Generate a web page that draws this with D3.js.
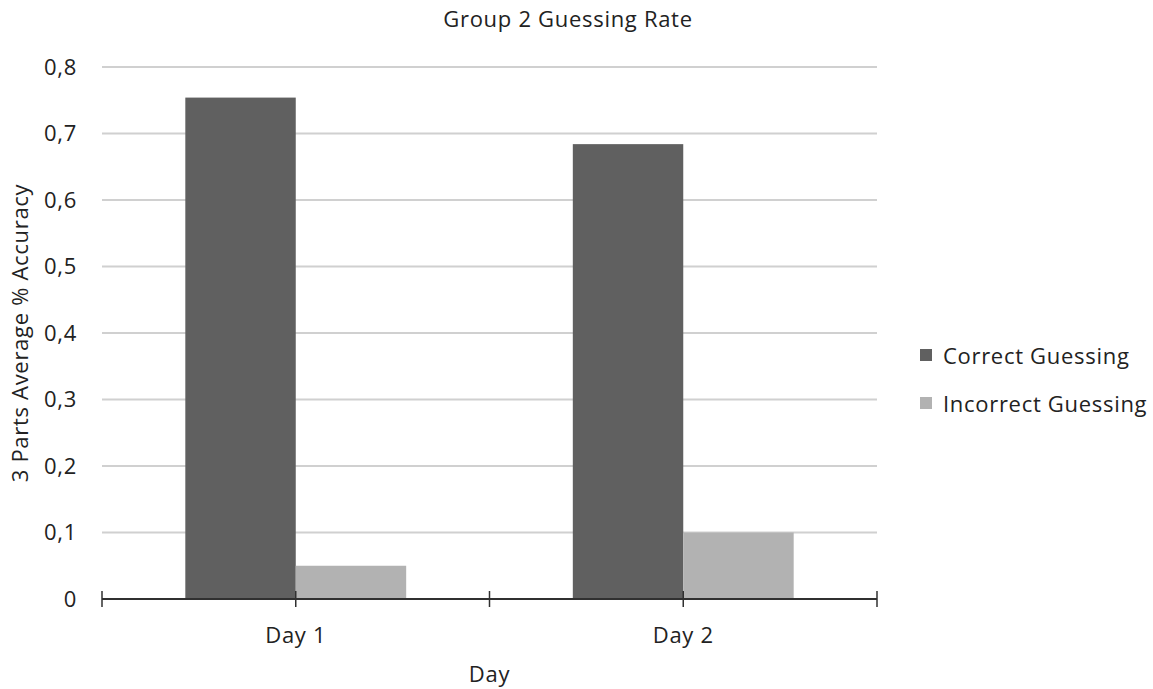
<!DOCTYPE html>
<html>
<head>
<meta charset="utf-8">
<script src="https://cdn.jsdelivr.net/npm/d3@7"></script>
<style>
  html, body { margin: 0; padding: 0; background: #fff; }
  svg text { font-family: "Open Sans", "DejaVu Sans", sans-serif; fill: #222; letter-spacing: 0.7px; }
</style>
</head>
<body>
<svg id="chart" width="1153" height="689"></svg>
<script>
// Chart data
const categories = ["Day 1", "Day 2"];
const seriesNames = ["Correct Guessing", "Incorrect Guessing"];
const correctValues = [0.754, 0.684];
const incorrectValues = [0.05, 0.1];
const yTicks = [0, 0.1, 0.2, 0.3, 0.4, 0.5, 0.6, 0.7, 0.8];
const colors = ["#606060", "#b2b2b2"];

const seriesValues = [correctValues, incorrectValues];

const svg = d3.select("#chart");
const margin = { left: 102, right: 276, top: 67, bottom: 90 };
const W = 1153, H = 689;
const plotW = W - margin.left - margin.right;
const plotH = H - margin.top - margin.bottom;
const FS = 22;

const g = svg.append("g").attr("transform", `translate(${margin.left},${margin.top})`);

const x0 = d3.scaleBand().domain(categories).range([0, plotW]).padding(0);
const x1 = d3.scaleBand().domain(seriesNames)
  .range([x0.bandwidth() * 0.215, x0.bandwidth() * 0.785]).padding(0);
const y = d3.scaleLinear().domain([0, 0.8]).range([plotH, 0]);

const fmt = v => v === 0 ? "0" : d3.format(".1f")(v).replace(".", ",");

// Horizontal gridlines
g.append("g").selectAll("line").data(yTicks.filter(t => t > 0)).join("line")
  .attr("x1", 0).attr("x2", plotW)
  .attr("y1", d => y(d)).attr("y2", d => y(d))
  .attr("stroke", "#d0d0d0").attr("stroke-width", 2);

// Y tick labels
g.append("g").selectAll("text").data(yTicks).join("text")
  .attr("x", -25).attr("y", d => y(d)).attr("dy", "0.35em")
  .attr("text-anchor", "end").attr("font-size", FS)
  .text(fmt);

// Bars
const groups = g.append("g").selectAll("g").data(categories).join("g")
  .attr("transform", d => `translate(${x0(d)},0)`);
groups.selectAll("rect")
  .data((d, i) => seriesNames.map((s, k) => ({ s, v: seriesValues[k][i], k })))
  .join("rect")
  .attr("x", d => x1(d.s))
  .attr("width", x1.bandwidth())
  .attr("y", d => y(d.v))
  .attr("height", d => plotH - y(d.v))
  .attr("fill", d => colors[d.k]);

// X axis line and ticks (at category centres and boundaries)
const xAxis = g.append("g").attr("transform", `translate(0,${plotH})`);
xAxis.append("line").attr("x1", 0).attr("x2", plotW)
  .attr("stroke", "#303030").attr("stroke-width", 2);
const tickXs = [0, ...categories.map(c => x0(c) + x0.bandwidth() / 2), ...categories.map(c => x0(c) + x0.bandwidth())];
xAxis.selectAll("line.tick").data(tickXs).join("line").attr("class", "tick")
  .attr("x1", d => d).attr("x2", d => d)
  .attr("y1", -8).attr("y2", 8)
  .attr("stroke", "#303030").attr("stroke-width", 1.5);
xAxis.selectAll("text").data(categories).join("text")
  .attr("x", d => x0(d) + x0.bandwidth() / 2).attr("y", 44)
  .attr("text-anchor", "middle").attr("font-size", FS)
  .text(d => d);

// Titles
svg.append("text").attr("x", 568).attr("y", 27)
  .attr("text-anchor", "middle").attr("font-size", FS).text("Group 2 Guessing Rate");
svg.append("text").attr("x", margin.left + plotW / 2).attr("y", 682)
  .attr("text-anchor", "middle").attr("font-size", FS).text("Day");
svg.append("text")
  .attr("transform", `translate(28,${margin.top + plotH / 2}) rotate(-90)`)
  .attr("text-anchor", "middle").attr("font-size", FS)
  .text("3 Parts Average % Accuracy");

// Legend
const legend = svg.append("g").attr("transform", "translate(920,349)");
const li = legend.selectAll("g").data(seriesNames).join("g")
  .attr("transform", (d, i) => `translate(0,${i * 48})`);
li.append("rect").attr("width", 12).attr("height", 12).attr("fill", (d, i) => colors[i]);
li.append("text").attr("x", 23).attr("y", 15)
  .attr("font-size", FS).text(d => d);
</script>
</body>
</html>
